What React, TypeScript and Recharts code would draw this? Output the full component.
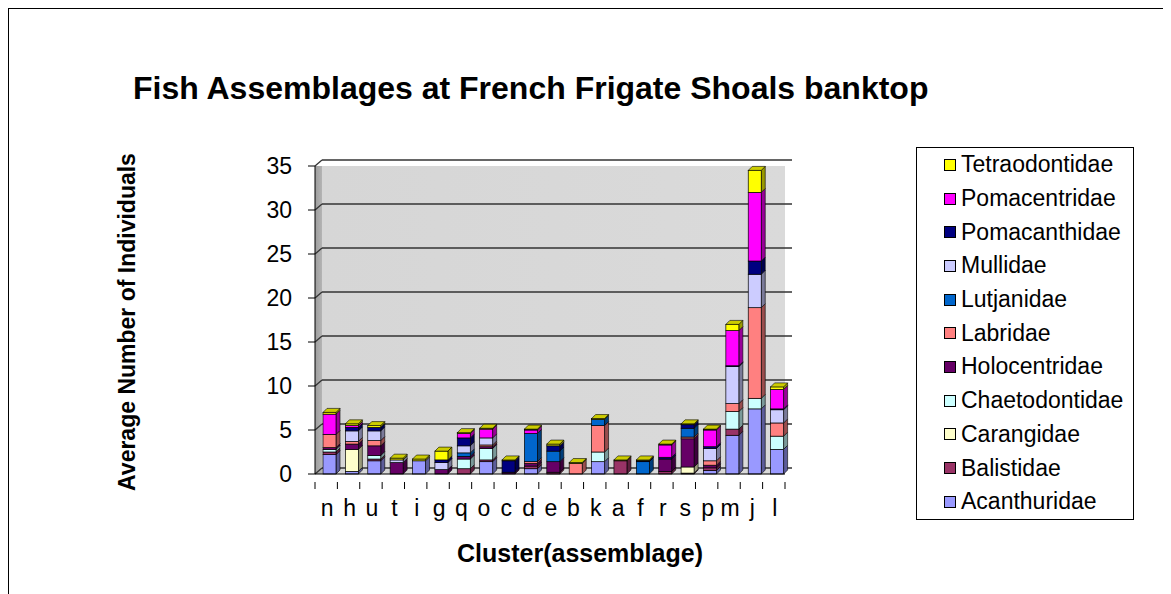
import { BarChart, Bar, XAxis, YAxis, CartesianGrid } from 'recharts';

const clusters = ['n', 'h', 'u', 't', 'i', 'g', 'q', 'o', 'c', 'd', 'e', 'b', 'k', 'a', 'f', 'r', 's', 'p', 'm', 'j', 'l'];

// values per family, in cluster order above
const acanthuridae = [2.2, 0.3, 1.5, 0, 1.5, 0, 0, 1.4, 0, 0.6, 0, 0, 1.4, 0, 0, 0, 0, 0.4, 4.4, 7.4, 2.8];
const balistidae = [0.3, 0, 0.2, 0, 0, 0, 0.6, 0.2, 0, 0.3, 0.2, 0, 0, 1.5, 0, 0.3, 0.1, 0.3, 0.7, 0, 0];
const carangidae = [0, 2.5, 0, 0, 0, 0, 0, 0, 0, 0, 0, 0, 0, 0, 0, 0, 0.7, 0, 0, 0, 0];
const chaetodontidae = [0.3, 0, 0.4, 0, 0, 0, 1.1, 1.3, 0, 0, 0, 0, 1.1, 0, 0, 0, 0, 0, 2.0, 1.2, 1.5];
const holocentridae = [0.2, 0.6, 1.1, 1.3, 0, 0.5, 0.3, 0.2, 0.2, 0.3, 1.2, 0, 0, 0, 0, 1.4, 3.2, 0.3, 0, 0, 0];
const labridae = [1.5, 0.3, 0.6, 0, 0, 0, 0, 0.2, 0, 0.2, 0, 1.2, 3.0, 0, 0, 0, 0.2, 0.5, 0.9, 10.3, 1.5];
const lutjanidae = [0, 0, 0, 0, 0, 0, 0.4, 0, 0, 3.2, 1.2, 0, 0.7, 0, 1.4, 0, 1.0, 0, 0, 0, 0];
const mullidae = [0, 1.2, 1.1, 0.3, 0, 0.8, 0.8, 0.8, 0, 0, 0, 0, 0, 0, 0, 0, 0, 1.4, 4.2, 3.8, 1.5];
const pomacanthidae = [0, 0.4, 0.4, 0, 0, 0.3, 0.9, 0, 1.3, 0, 0.6, 0, 0, 0, 0.1, 0.2, 0.4, 0.2, 0.1, 1.5, 0.1];
const pomacentridae = [2.3, 0.2, 0, 0, 0, 0, 0.5, 1.0, 0, 0.4, 0, 0, 0, 0, 0, 1.4, 0, 1.9, 4.0, 7.8, 2.2];
const tetraodontidae = [0.2, 0.2, 0.2, 0.2, 0.2, 1.0, 0.1, 0.1, 0.1, 0.1, 0.2, 0.1, 0.1, 0.1, 0.1, 0.1, 0.1, 0.1, 0.7, 2.5, 0.3];

const yTicks = [0, 5, 10, 15, 20, 25, 30, 35];

const series = [
  { name: 'Acanthuridae', values: acanthuridae, color: '#9999FF' },
  { name: 'Balistidae', values: balistidae, color: '#993366' },
  { name: 'Carangidae', values: carangidae, color: '#FFFFCC' },
  { name: 'Chaetodontidae', values: chaetodontidae, color: '#CCFFFF' },
  { name: 'Holocentridae', values: holocentridae, color: '#660066' },
  { name: 'Labridae', values: labridae, color: '#FF8080' },
  { name: 'Lutjanidae', values: lutjanidae, color: '#0066CC' },
  { name: 'Mullidae', values: mullidae, color: '#CCCCFF' },
  { name: 'Pomacanthidae', values: pomacanthidae, color: '#000080' },
  { name: 'Pomacentridae', values: pomacentridae, color: '#FF00FF' },
  { name: 'Tetraodontidae', values: tetraodontidae, color: '#FFFF00' },
];

const data = clusters.map((c, i) => {
  const row: Record<string, string | number> = { cluster: c };
  series.forEach((s) => { row[s.name] = s.values[i]; });
  return row;
});

const FONT = '"Liberation Sans", Arial, sans-serif';
const DEPTH = 4;

function shade(hex: string, f: number) {
  const n = parseInt(hex.slice(1), 16);
  const r = Math.round(((n >> 16) & 255) * f);
  const g = Math.round(((n >> 8) & 255) * f);
  const b = Math.round((n & 255) * f);
  return `rgb(${r},${g},${b})`;
}

// 3d-ish column piece: front face + right side, top face on the last series
const makeShape = (color: string, top: boolean) => (props: any) => {
  const { x, y, width, height } = props;
  if (x == null || y == null) return null;
  const h = Math.max(0, height || 0);
  const x0 = x + 3;
  const w = width;
  return (
    <g>
      {h > 0 && (
        <polygon
          points={`${x0 + w},${y} ${x0 + w + DEPTH},${y - DEPTH} ${x0 + w + DEPTH},${y + h - DEPTH} ${x0 + w},${y + h}`}
          fill={shade(color, 0.6)}
          stroke="#000"
          strokeWidth={0.6}
        />
      )}
      {h > 0 && <rect x={x0} y={y} width={w} height={h} fill={color} stroke="#000" strokeWidth={0.7} />}
      {top && (
        <polygon
          points={`${x0},${y} ${x0 + DEPTH},${y - DEPTH} ${x0 + w + DEPTH},${y - DEPTH} ${x0 + w},${y}`}
          fill="#CCCC00"
          stroke="#000"
          strokeWidth={0.6}
        />
      )}
    </g>
  );
};

const XTick = (props: any) => {
  const { x, y, payload, index } = props;
  const half = payload.offset || 11;
  return (
    <g>
      {index === 0 && <line x1={x - half} y1={y} x2={x - half} y2={y + 7} stroke="#000" />}
      <line x1={x + half} y1={y} x2={x + half} y2={y + 7} stroke="#000" />
      <text x={x + 1} y={y + 34} textAnchor="middle" fontSize={23} fontFamily={FONT} fill="#000">
        {payload.value}
      </text>
    </g>
  );
};

// back-wall grid line, shifted up/right like the 3d wall, with the diagonal on the side wall
const GridLine = (props: any) => {
  const { x1, x2, y1 } = props;
  return (
    <g>
      <line x1={x1} y1={y1} x2={x1 + 7} y2={y1 - 6} stroke="#333" strokeWidth={1.3} />
      <line x1={x1 + 7} y1={y1 - 6} x2={x2 + 7} y2={y1 - 6} stroke="#333" strokeWidth={1.3} />
    </g>
  );
};

export default function App() {
  return (
    <div
      style={{
        position: 'relative',
        width: 1163,
        height: 586,
        boxSizing: 'border-box',
        borderTop: '1px solid #000',
        borderLeft: '1px solid #000',
        fontFamily: FONT,
        background: '#fff',
      }}
    >
      <div style={{ position: 'absolute', left: 124, top: 62, fontSize: 32, lineHeight: '34px', fontWeight: 'bold', whiteSpace: 'nowrap' }}>
        Fish Assemblages at French Frigate Shoals banktop
      </div>
      <div
        style={{
          position: 'absolute',
          left: 118,
          top: 313,
          transform: 'translate(-50%, -50%) rotate(-90deg)',
          fontSize: 23,
          fontWeight: 'bold',
          whiteSpace: 'nowrap',
        }}
      >
        Average Number of Individuals
      </div>
      <div
        style={{
          position: 'absolute',
          left: 571,
          top: 544,
          transform: 'translate(-50%, -50%)',
          fontSize: 25,
          fontWeight: 'bold',
          whiteSpace: 'nowrap',
        }}
      >
        Cluster(assemblage)
      </div>

      <BarChart
        width={1162}
        height={585}
        data={data}
        margin={{ top: 157, right: 386, bottom: 80, left: 246 }}
        barSize={13}
      >
        <defs>
          <linearGradient id="wall" x1="0" y1="0" x2="1" y2="0">
            <stop offset="0" stopColor="#9c9c9c" />
            <stop offset="0.015" stopColor="#b4b4b4" />
            <stop offset="0.015" stopColor="#d6d6d6" />
            <stop offset="1" stopColor="#dadada" />
          </linearGradient>
        </defs>
        <CartesianGrid vertical={false} fill="url(#wall)" horizontal={GridLine} />
        <XAxis
          dataKey="cluster"
          height={40}
          tickLine={false}
          axisLine={{ stroke: '#000' }}
          tick={<XTick />}
          interval={0}
        />
        <YAxis
          width={60}
          domain={[0, 35]}
          ticks={yTicks}
          tickSize={7}
          tickMargin={16}
          axisLine={{ stroke: '#000' }}
          tickLine={{ stroke: '#000' }}
          tick={{ fill: '#000', fontSize: 23, fontFamily: FONT }}
        />
        {series.map((s, i) => (
          <Bar
            key={s.name}
            dataKey={s.name}
            stackId="a"
            fill={s.color}
            isAnimationActive={false}
            shape={makeShape(s.color, i === series.length - 1)}
          />
        ))}
      </BarChart>

      <div
        style={{
          position: 'absolute',
          left: 907,
          top: 138,
          width: 218,
          height: 373,
          boxSizing: 'border-box',
          border: '1px solid #000',
          padding: '0 0 0 27px',
        }}
      >
        {[...series].reverse().map((s) => (
          <div key={s.name} style={{ display: 'flex', alignItems: 'center', height: 33.7, fontSize: 23 }}>
            <span
              style={{
                display: 'inline-block',
                width: 10,
                height: 10,
                background: s.color,
                border: '1.5px solid #000',
                marginRight: 5,
              }}
            />
            {s.name}
          </div>
        ))}
      </div>
    </div>
  );
}
